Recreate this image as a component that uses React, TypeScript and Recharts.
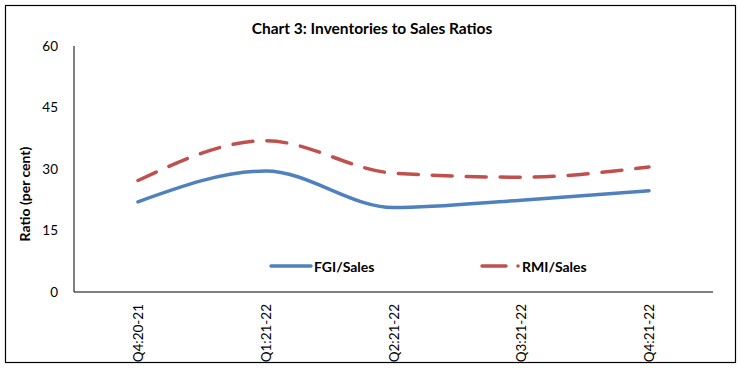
import React from "react";
import { LineChart, Line, XAxis, YAxis } from "recharts";

const quarters = ["Q4:20-21", "Q1:21-22", "Q2:21-22", "Q3:21-22", "Q4:21-22"];
const fgiSales = [22.0, 29.5, 20.6, 22.4, 24.7];
const rmiSales = [27.2, 36.9, 29.0, 28.0, 30.5];
const yTicks = [0, 15, 30, 45, 60];

const blue = "#4F81BD";
const red = "#C0504D";
const font = "Lato, 'Open Sans', sans-serif";

const data = quarters.map((q, i) => ({ q, fgi: fgiSales[i], rmi: rmiSales[i] }));

const XTick = (props: any) => {
  const { x, y, payload } = props;
  return (
    <text
      x={x}
      y={y}
      transform={`rotate(-90, ${x}, ${y})`}
      textAnchor="end"
      dominantBaseline="central"
      fill="#000"
      fontSize={13.5}
      fontFamily={font}
    >
      {payload.value}
    </text>
  );
};

export default function App() {
  return (
    <div style={{ position: "absolute", left: 0, top: 0, width: 744, height: 368, background: "#fff" }}>
      <svg width={744} height={368} style={{ position: "absolute", left: 0, top: 0 }}>
        <rect x={5.5} y={5.5} width={730} height={357} fill="none" stroke="#000" strokeWidth={1.2} />
        <text x={372} y={28} textAnchor="middle" dominantBaseline="central" fontSize={15.5} fontWeight="bold" fontFamily={font}>
          Chart 3: Inventories to Sales Ratios
        </text>
        <text
          x={24}
          y={194}
          transform="rotate(-90, 24, 194)"
          textAnchor="middle"
          dominantBaseline="central"
          fontSize={14}
          fontWeight="bold"
          fontFamily={font}
        >
          Ratio (per cent)
        </text>
        {/* legend */}
        <line x1={271} y1={266} x2={311} y2={266} stroke={blue} strokeWidth={3.5} strokeLinecap="round" />
        <text x={314} y={266} dominantBaseline="central" fontSize={14} fontWeight="bold" fontFamily={font}>
          FGI/Sales
        </text>
        <line x1={482} y1={266} x2={506} y2={266} stroke={red} strokeWidth={3.5} strokeLinecap="round" />
        <circle cx={518} cy={266} r={1.8} fill={red} />
        <text x={522} y={266} dominantBaseline="central" fontSize={14} fontWeight="bold" fontFamily={font}>
          RMI/Sales
        </text>
      </svg>
      <div style={{ position: "absolute", left: 0, top: 0 }}>
        <LineChart width={744} height={368} data={data} margin={{ top: 46, right: 31, left: 0, bottom: 0 }}>
          <XAxis
            dataKey="q"
            height={76}
            padding={{ left: 64, right: 64 }}
            axisLine={{ stroke: "#000", strokeWidth: 1 }}
            tickLine={false}
            tickSize={0}
            tickMargin={12}
            interval={0}
            tick={<XTick />}
          />
          <YAxis
            width={74}
            domain={[0, 60]}
            ticks={yTicks}
            axisLine={{ stroke: "#000", strokeWidth: 1 }}
            tickLine={false}
            tickSize={0}
            tickMargin={16}
            tick={{ fill: "#000", fontSize: 13.5, fontFamily: font }}
          />
          <Line
            type="monotone"
            dataKey="fgi"
            name="FGI/Sales"
            stroke={blue}
            strokeWidth={3.5}
            strokeLinecap="round"
            dot={false}
            isAnimationActive={false}
          />
          <Line
            type="monotone"
            dataKey="rmi"
            name="RMI/Sales"
            stroke={red}
            strokeWidth={3.5}
            strokeLinecap="round"
            strokeDasharray="20 14"
            dot={false}
            isAnimationActive={false}
          />
        </LineChart>
      </div>
    </div>
  );
}
